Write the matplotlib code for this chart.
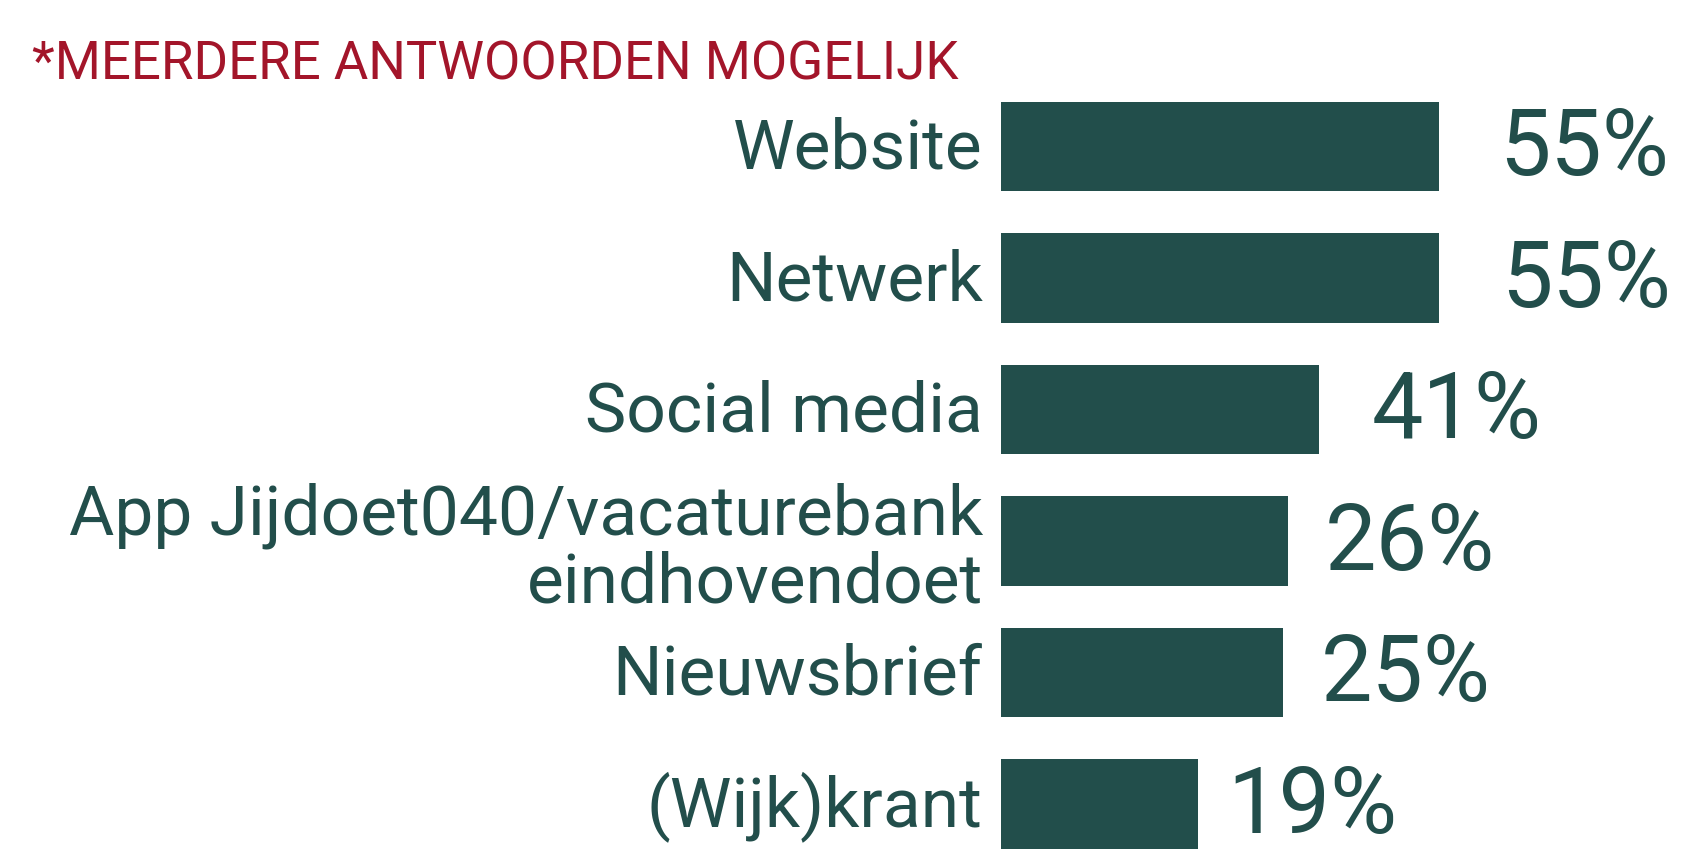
import matplotlib
matplotlib.use("Agg")
import matplotlib.pyplot as plt

# data
categorieen = ["Website", "Netwerk", "Social media",
               "App Jijdoet040/vacaturebank\neindhovendoet",
               "Nieuwsbrief", "(Wijk)krant"]
percentages = [55, 55, 41, 26, 25, 19]
# drawn bar lengths (the graphic does not scale bars linearly with the labels)
balklengte = [55, 55, 39.9, 36.1, 35.4, 24.8]
label_gap = [7.6, 7.8, 6.6, 4.6, 4.8, 3.6]

groen = "#224e4b"
rood = "#a3152a"

plt.rcParams["font.family"] = ["Roboto", "DejaVu Sans"]

fig = plt.figure(figsize=(16.91, 8.52), dpi=100)
ax = fig.add_axes([0, 0, 1, 1])

px = 438 / 55.0  # pixels per percent
ax.set_xlim(-1001 / px, 690 / px)
ax.set_ylim((852 - 146.5) / 131.5, -146.5 / 131.5)
ax.axis("off")

y = list(range(len(categorieen)))
ax.barh(y, balklengte, height=0.68, color=groen, left=0)

for i, (cat, pct) in enumerate(zip(categorieen, percentages)):
    regels = cat.split("\n")
    if len(regels) == 1:
        ax.text(-2.3, i + 0.17, cat, ha="right", va="baseline",
                fontsize=50, color=groen)
    else:
        ax.text(-2.3, i - 0.05, regels[0], ha="right", va="baseline",
                fontsize=50, color=groen)
        ax.text(-2.3, i + 0.47, regels[1], ha="right", va="baseline",
                fontsize=50, color=groen)
    ax.text(balklengte[i] + label_gap[i], i + 0.22, f"{pct}%", ha="left",
            va="baseline", fontsize=66, color=groen)

fig.text(32 / 1691, 1 - 80 / 852, "*MEERDERE ANTWOORDEN MOGELIJK",
         ha="left", va="baseline", fontsize=38, color=rood)

fig.savefig("out.png", dpi=100)
